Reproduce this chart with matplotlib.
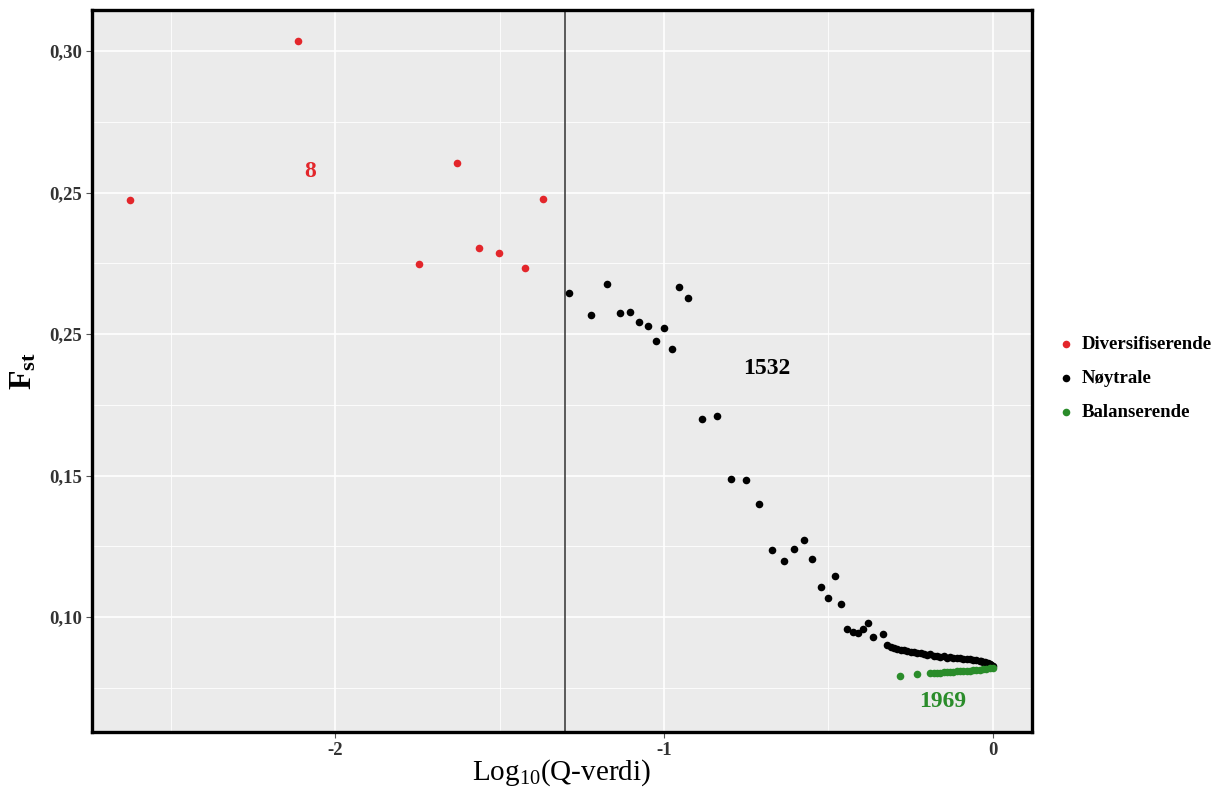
import numpy as np
import matplotlib
matplotlib.use("Agg")
import matplotlib.pyplot as plt
from matplotlib.ticker import FixedLocator

plt.rcParams['font.family'] = ['Liberation Serif', 'DejaVu Serif']
plt.rcParams['mathtext.fontset'] = 'custom'
plt.rcParams['mathtext.rm'] = 'Liberation Serif'
plt.rcParams['mathtext.bf'] = 'Liberation Serif:bold'
plt.rcParams['mathtext.default'] = 'regular'

# ---- data (log10 q-value, Fst) ----
div_x = [-2.623, -2.112, -1.629, -1.745, -1.562, -1.502, -1.422, -1.368]
div_y = [0.2473, 0.3035, 0.2604, 0.2247, 0.2304, 0.2286, 0.2233, 0.2477]

neu_x = [-1.289, -1.222, -1.173, -1.134, -1.103, -1.076, -1.049, -1.024, -1.000,
         -0.976, -0.954, -0.927, -0.884, -0.839, -0.796, -0.751, -0.711, -0.672,
         -0.635, -0.605, -0.574, -0.550, -0.523, -0.502, -0.480, -0.462, -0.444,
         -0.426, -0.410, -0.395, -0.380, -0.365, -0.334, -0.322,
         -0.31, -0.30, -0.29, -0.28, -0.27, -0.26, -0.25, -0.24, -0.23, -0.22,
         -0.21, -0.20, -0.19, -0.18, -0.17, -0.16, -0.15, -0.14, -0.13, -0.12,
         -0.11, -0.10, -0.09, -0.08, -0.07, -0.06, -0.05, -0.04, -0.035, -0.03,
         -0.025, -0.02, -0.015, -0.01, -0.005, 0.0]
neu_y = [0.2145, 0.2067, 0.2177, 0.2074, 0.2078, 0.2042, 0.2028, 0.1975, 0.2021,
         0.1947, 0.2166, 0.2127, 0.1700, 0.1710, 0.1488, 0.1484, 0.1399, 0.1237,
         0.1198, 0.1240, 0.1272, 0.1205, 0.1106, 0.1067, 0.1145, 0.1046, 0.0958,
         0.0947, 0.0943, 0.0958, 0.0979, 0.0929, 0.0940, 0.0901,
         0.0895, 0.0890, 0.0888, 0.0885, 0.0884, 0.0880, 0.0878, 0.0876, 0.0873, 0.0872,
         0.0870, 0.0866, 0.0868, 0.0864, 0.0862, 0.0860, 0.0862, 0.0857, 0.0858, 0.0855,
         0.0854, 0.0857, 0.0852, 0.0852, 0.0851, 0.0850, 0.0849, 0.0846, 0.0845, 0.0843,
         0.0841, 0.0838, 0.0836, 0.0834, 0.0831, 0.0828]

bal_x = [-0.283, -0.231, -0.19, -0.18, -0.17, -0.16, -0.15, -0.14, -0.13, -0.12,
         -0.11, -0.10, -0.09, -0.08, -0.07, -0.06, -0.05, -0.04, -0.03, -0.02,
         -0.01, 0.0]
bal_y = [0.0792, 0.0799, 0.0802, 0.0803, 0.0803, 0.0804, 0.0805, 0.0806, 0.0806, 0.0807,
         0.0808, 0.0809, 0.0810, 0.0810, 0.0811, 0.0812, 0.0813, 0.0814, 0.0815, 0.0817,
         0.0819, 0.0821]

series_names = ['Diversifiserende', 'Nøytrale', 'Balanserende']
series_colors = ['#E3262B', '#000000', '#2A8C2A']
count_labels = ['8', '1532', '1969']
count_pos_x = [-2.076, -0.687, -0.152]
count_pos_y = [0.2576, 0.188, 0.070]

xticks = [-2, -1, 0]
xtick_labels = ['-2', '-1', '0']
yticks = [0.10, 0.15, 0.20, 0.25, 0.30]
ytick_labels = ['0,10', '0,15', '0,25', '0,25', '0,30']
cutoff = np.log10(0.05)

fig = plt.figure(figsize=(12.28, 7.91), dpi=100)
ax = fig.add_axes([0.0749, 0.0746, 0.8404 - 0.0749, 0.9874 - 0.0746])
ax.set_facecolor('#EBEBEB')

ax.set_xlim(-2.739, 0.119)
ax.set_ylim(0.0594, 0.3145)

ax.set_xticks(xticks)
ax.set_xticklabels(xtick_labels)
ax.set_yticks(yticks)
ax.set_yticklabels(ytick_labels)
ax.xaxis.set_minor_locator(FixedLocator([-2.5, -1.5, -0.5]))
ax.yaxis.set_minor_locator(FixedLocator([0.075, 0.125, 0.175, 0.225, 0.275]))
ax.grid(which='major', color='white', lw=1.2)
ax.grid(which='minor', color='white', lw=0.6)
ax.set_axisbelow(True)

for lbl in ax.get_xticklabels() + ax.get_yticklabels():
    lbl.set_fontweight('bold')
    lbl.set_fontsize(13.5)
    lbl.set_color('#333333')
ax.tick_params(which='major', length=4, color='#555555', width=0.8, pad=3)
ax.tick_params(which='minor', length=0)

for s in ax.spines.values():
    s.set_linewidth(2.4)
    s.set_color('black')

ax.axvline(cutoff, color='#333333', lw=1.1, zorder=1.5)

xs = [div_x, neu_x, bal_x]
ys = [div_y, neu_y, bal_y]
for x, y, c, n in zip(xs, ys, series_colors, series_names):
    ax.scatter(x, y, s=30, color=c, label=n, zorder=3, linewidths=0)

for t, px, py, c in zip(count_labels, count_pos_x, count_pos_y, series_colors):
    ax.text(px, py, t, color=c, fontsize=17, fontweight='bold', ha='center', va='center')

ax.set_xlabel('Log$_{10}$(Q-verdi)', fontsize=21, labelpad=-1)
ax.set_ylabel(r'F$_{st}$', fontsize=23, fontweight='bold', labelpad=8)
ax.yaxis.label.set_fontweight('bold')

leg = ax.legend(loc='center left', bbox_to_anchor=(1.004, 0.49), frameon=False,
                prop={'weight': 'bold', 'size': 13.5}, handletextpad=0.15,
                labelspacing=0.9, markerscale=1.0, handlelength=1.4)

fig.savefig('out.png', dpi=100)
